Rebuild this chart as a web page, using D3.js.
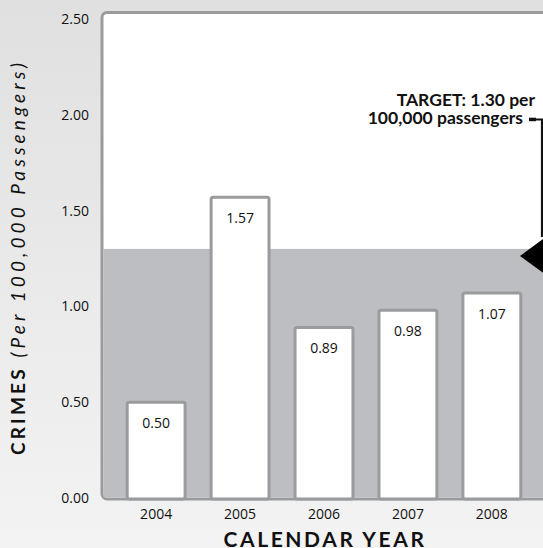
<!DOCTYPE html>
<html>
<head>
<meta charset="utf-8">
<script src="https://cdn.jsdelivr.net/npm/d3@7"></script>
<style>
  html, body { margin: 0; padding: 0; }
  body { width: 543px; height: 548px; overflow: hidden; }
</style>
</head>
<body>
<svg id="chart" width="543" height="548"></svg>
<script>
const years = ["2004", "2005", "2006", "2007", "2008"];
const crimes = [0.50, 1.57, 0.89, 0.98, 1.07];
const yTicks = [0, 0.5, 1.0, 1.5, 2.0, 2.5];
const target = 1.30;
const targetLines = ["TARGET: 1.30 per", "100,000 passengers"];
const xTitle = "CALENDAR YEAR";
const yTitleBold = "CRIMES";
const yTitleItalic = "(Per 100,000 Passengers)";

const svg = d3.select("#chart");
const W = 543, H = 548;

const defs = svg.append("defs");
const grad = defs.append("linearGradient").attr("id", "bg").attr("x1", 0).attr("y1", 0).attr("x2", 0).attr("y2", 1);
grad.append("stop").attr("offset", "0%").attr("stop-color", "#e0e0e0");
grad.append("stop").attr("offset", "100%").attr("stop-color", "#f3f3f3");
svg.append("rect").attr("width", W).attr("height", H).attr("fill", "url(#bg)");

const x = d3.scaleBand().domain(years).range([102, 546]).paddingInner(0.31).paddingOuter(0.3);
const y = d3.scaleLinear().domain([0, 2.5]).range([498, 19]);

const plotLeft = 102, plotTop = 12.5, plotBottom = 499;

// plot area
svg.append("rect")
  .attr("x", plotLeft).attr("y", plotTop)
  .attr("width", 480).attr("height", plotBottom - plotTop)
  .attr("rx", 5)
  .attr("fill", "#ffffff").attr("stroke", "#9a9b9d").attr("stroke-width", 3);

// target zone
svg.append("rect")
  .attr("x", plotLeft + 1.5).attr("y", y(target))
  .attr("width", 470).attr("height", plotBottom - 1.5 - y(target))
  .attr("fill", "#bdbec1");

// bars
svg.selectAll("rect.bar").data(years).join("rect")
  .attr("class", "bar")
  .attr("x", d => x(d))
  .attr("y", (d, i) => y(crimes[i]))
  .attr("width", x.bandwidth())
  .attr("height", (d, i) => plotBottom - y(crimes[i]))
  .attr("rx", 2)
  .attr("fill", "#ffffff").attr("stroke", "#9a9b9d").attr("stroke-width", 3);

// value labels
svg.selectAll("text.val").data(years).join("text")
  .attr("class", "val")
  .attr("x", d => x(d) + x.bandwidth() / 2)
  .attr("y", (d, i) => y(crimes[i]) + 26)
  .attr("text-anchor", "middle")
  .attr("font-family", "'Open Sans', sans-serif")
  .attr("font-size", 14)
  .attr("fill", "#111")
  .text((d, i) => d3.format(".2f")(crimes[i]));

// y axis
const yAxis = svg.append("g").attr("transform", `translate(${plotLeft},0)`)
  .call(d3.axisLeft(y).tickValues(yTicks).tickFormat(d3.format(".2f")).tickSize(0).tickPadding(13));
yAxis.select(".domain").remove();
yAxis.selectAll("text").attr("font-family", "'Open Sans', sans-serif").attr("font-size", 14).attr("fill", "#111");

// x axis
const xAxis = svg.append("g").attr("transform", `translate(0,${plotBottom})`)
  .call(d3.axisBottom(x).tickSize(0).tickPadding(10));
xAxis.select(".domain").remove();
xAxis.selectAll("text").attr("font-family", "'Open Sans', sans-serif").attr("font-size", 14).attr("fill", "#111");

// x title
svg.append("text")
  .attr("x", 325).attr("y", 546.5)
  .attr("text-anchor", "middle")
  .attr("font-family", "Lato, sans-serif")
  .attr("font-weight", 700)
  .attr("font-size", 21)
  .attr("letter-spacing", 2.6)
  .attr("fill", "#111")
  .text(xTitle);

// y title
const yt = svg.append("text")
  .attr("transform", "translate(25,257) rotate(-90)")
  .attr("text-anchor", "middle")
  .attr("font-family", "Lato, sans-serif")
  .attr("font-size", 19)
  .attr("fill", "#111");
yt.append("tspan").attr("font-weight", 700).attr("letter-spacing", 3.2).text(yTitleBold);
yt.append("tspan").attr("font-style", "italic").attr("letter-spacing", 4.1).text(" " + yTitleItalic);

// target annotation
const ta = svg.append("text")
  .attr("text-anchor", "end")
  .attr("font-family", "Lato, sans-serif")
  .attr("font-weight", 700)
  .attr("font-size", 17.5)
  .attr("fill", "#111");
ta.append("tspan").attr("x", 535).attr("y", 105.5).text(targetLines[0]);
ta.append("tspan").attr("x", 523).attr("y", 124).text(targetLines[1]);

svg.append("path")
  .attr("d", `M530,119.5 H542 V${y(target) - 12}`)
  .attr("fill", "none").attr("stroke", "#111").attr("stroke-width", 2.2);
svg.append("rect").attr("x", 529).attr("y", 117.7).attr("width", 7).attr("height", 3.5).attr("fill", "#111");
svg.append("path")
  .attr("d", `M520,${y(target) + 7} L546,${y(target) - 12} L546,${y(target) + 26} Z`)
  .attr("fill", "#000");
</script>
</body>
</html>
